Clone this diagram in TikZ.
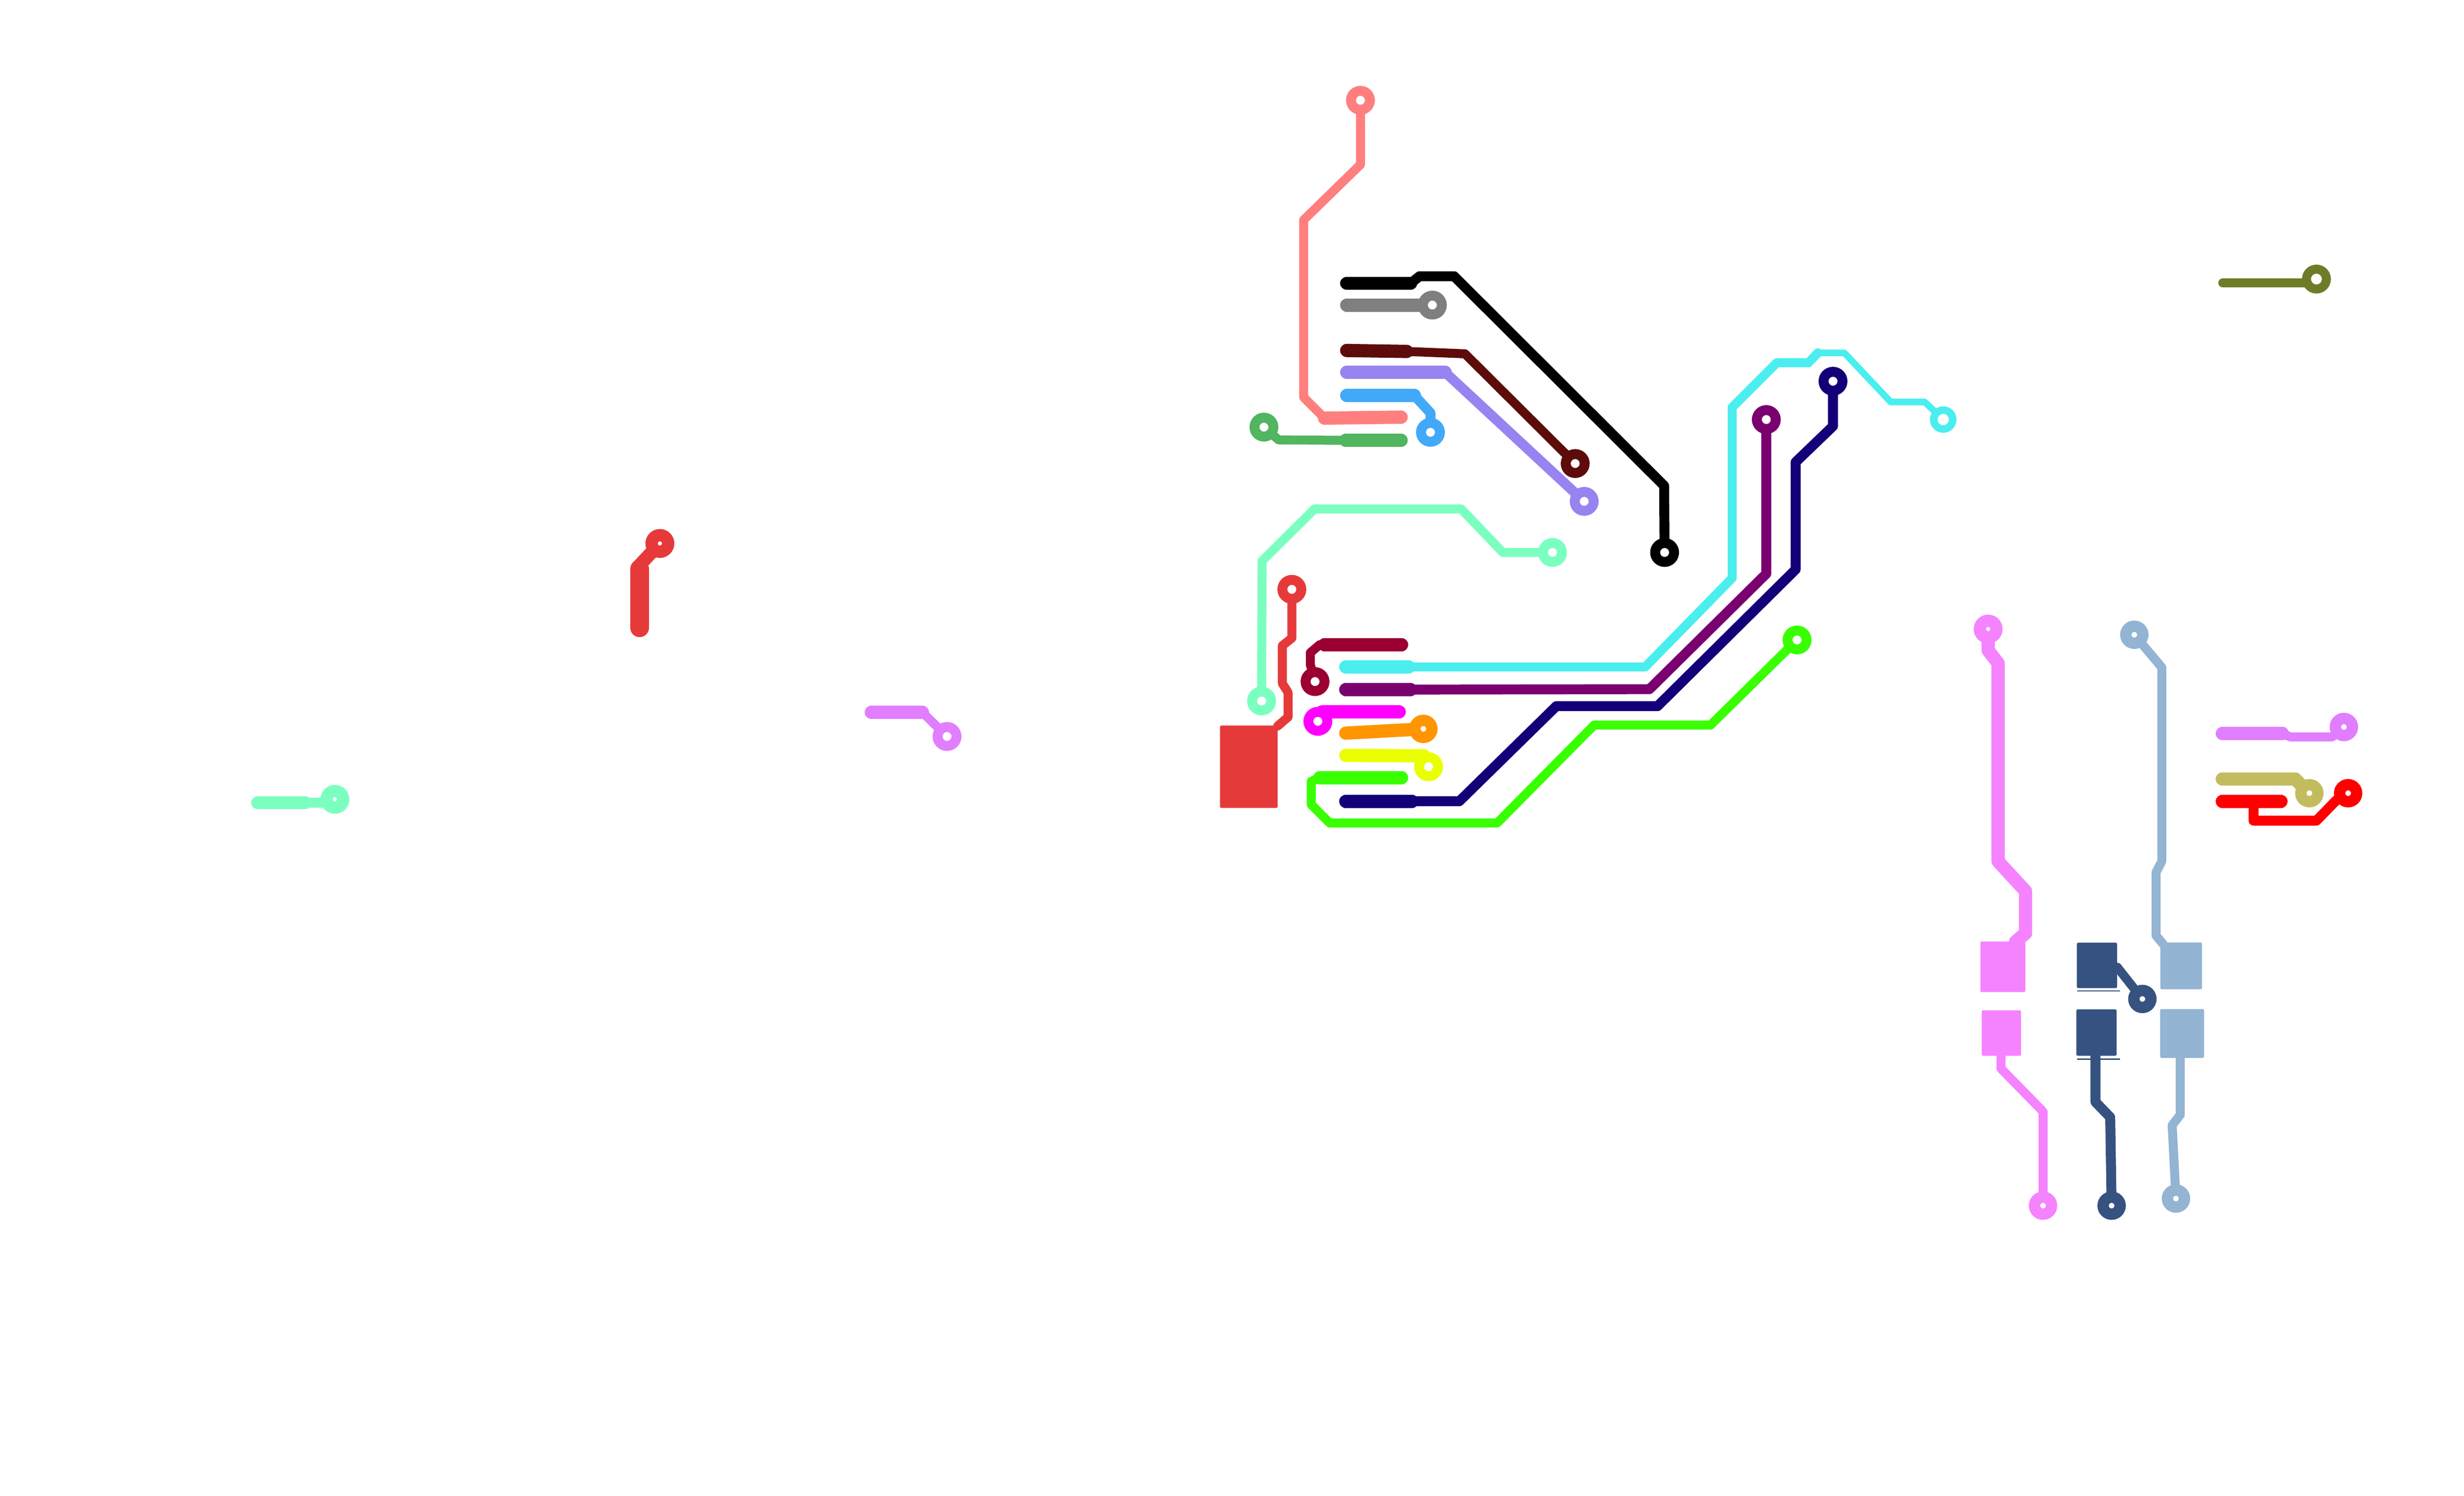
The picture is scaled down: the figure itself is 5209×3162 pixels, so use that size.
\documentclass[tikz,border=0pt]{standalone}
\definecolor{csalmon}{HTML}{FF7F7F}
\definecolor{cblack}{HTML}{000000}
\definecolor{cgray}{HTML}{7F7F7F}
\definecolor{cmaroon}{HTML}{5E0B0B}
\definecolor{cviolet}{HTML}{9983F0}
\definecolor{csky}{HTML}{42A9F9}
\definecolor{cleaf}{HTML}{52B560}
\definecolor{cmint}{HTML}{7BFFC1}
\definecolor{cred}{HTML}{E63A3A}
\definecolor{cwine}{HTML}{9B0030}
\definecolor{ccyan}{HTML}{4BEEEE}
\definecolor{cplum}{HTML}{7A0070}
\definecolor{cnavy}{HTML}{130078}
\definecolor{clime}{HTML}{39FF00}
\definecolor{cmag}{HTML}{FF00FF}
\definecolor{corange}{HTML}{FF9500}
\definecolor{cyell}{HTML}{EAFF00}
\definecolor{cpink}{HTML}{F583FF}
\definecolor{corchid}{HTML}{E17DFF}
\definecolor{csteel}{HTML}{93B4D3}
\definecolor{cslate}{HTML}{365280}
\definecolor{ckhaki}{HTML}{C3BC5E}
\definecolor{cpure}{HTML}{FF0000}
\definecolor{colive}{HTML}{6F7B26}
\pgfdeclarelayer{padlayer}
\pgfsetlayers{main,padlayer}
\tikzset{
  x=0.01cm,y=-0.01cm,
  pad/.style={circle,draw=#1,fill=white,line width=0.21cm,minimum size=0.4cm,inner sep=0pt,outer sep=0pt},
  tight/.style={line width=0.24cm,minimum size=0.36cm},
  closed/.style={line width=0.26cm,minimum size=0.35cm},
  thin trace/.style={draw=#1,line width=0.19cm,line join=round,line cap=round},
  mid trace/.style={draw=#1,line width=0.21cm,line join=round,line cap=round},
  fine trace/.style={draw=#1,line width=0.14cm,line join=round,line cap=round},
  fat trace/.style={draw=#1,line width=0.28cm,line join=round,line cap=round},
  wide trace/.style={draw=#1,line width=0.4cm,line join=round,line cap=round},
  sliver/.style={draw=#1,line width=0.03cm},
  block/.style={fill=#1,draw=none,rounded corners=0.03cm,inner sep=0pt}
}
\begin{document}
\begin{tikzpicture}
\useasboundingbox (0,0) rectangle (5209,3162);
\begin{pgfonlayer}{padlayer}
\node[pad=csalmon] (psalmon) at (2876,212) {};
\node[pad=cblack] (pblack) at (3519,1168) {};
\node[pad=cgray] (pgray) at (3028,645) {};
\node[pad=cmaroon] (pmaroon) at (3330,980) {};
\node[pad=cviolet] (pviolet) at (3349,1060) {};
\node[pad=csky] (psky) at (3024,914) {};
\node[pad=cleaf] (pleaf) at (2672,903) {};
\node[pad=cmint] (pmint) at (3282,1168) {};
\node[pad=cmint] (pminttwo) at (2667,1482) {};
\node[pad=cred] (pred) at (2731,1246) {};
\node[pad=cwine] (pwine) at (2780,1441) {};
\node[pad=ccyan,line width=0.16cm] (pcyan) at (4108,887) {};
\node[pad=cplum] (pplum) at (3734,887) {};
\node[pad=cnavy] (pnavy) at (3875,806) {};
\node[pad=clime] (plime) at (3799,1353) {};
\node[pad=cmag] (pmag) at (2786,1525) {};
\node[pad=corange,tight] (porange) at (3009,1541) {};
\node[pad=cyell] (pyell) at (3020,1621) {};
\node[pad=cpink,closed] (ppink) at (4203,1330) {};
\node[pad=cpink,tight] (ppinktwo) at (4319,2549) {};
\node[pad=csteel,tight] (psteel) at (4512,1342) {};
\node[pad=csteel,tight] (psteeltwo) at (4600,2534) {};
\node[pad=cslate,tight] (pslate) at (4529,2112) {};
\node[pad=cslate,tight] (pslatetwo) at (4464,2549) {};
\node[pad=corchid,tight] (porchid) at (4955,1537) {};
\node[pad=ckhaki,tight] (pkhaki) at (4882,1677) {};
\node[pad=cpure,tight] (ppure) at (4964,1677) {};
\node[pad=colive,line width=0.19cm,minimum size=0.42cm] (polive) at (4897,590) {};
\node[pad=cred,closed] (predl) at (1395,1149) {};
\node[pad=corchid] (porchidl) at (2002,1557) {};
\node[pad=cmint,closed] (pmintl) at (708,1690) {};
\end{pgfonlayer}
% blocks
\node[block=cred,minimum width=1.22cm,minimum height=1.74cm] (bred) at (2640,1621) {};
\node[block=cpink,minimum width=0.95cm,minimum height=1.07cm] (bpinka) at (4234,2044) {};
\node[block=cpink,minimum width=0.83cm,minimum height=0.96cm] (bpinkb) at (4231,2184) {};
\node[block=cslate,minimum width=0.85cm,minimum height=0.96cm] (bslatea) at (4433,2041) {};
\node[block=cslate,minimum width=0.85cm,minimum height=0.98cm] (bslateb) at (4432,2183) {};
\node[block=csteel,minimum width=0.88cm,minimum height=0.99cm] (bsteela) at (4611,2042) {};
\node[block=csteel,minimum width=0.93cm,minimum height=1.03cm] (bsteelb) at (4613,2185) {};
\coordinate (sa) at (4391,2095); \coordinate (sb) at (4482,2095);
\coordinate (sc) at (4391,2239); \coordinate (sd) at (4482,2239);
\draw[sliver=cslate] (sa) -- (sb);
\draw[sliver=cslate] (sc) -- (sd);
% traces
\path[thin trace=csalmon] (psalmon) -- (2876,348) -- (2756,465) -- (2756,840) -- (2800,884);
\path[fat trace=csalmon] (2800,884) -- (2962,882);
\path[fat trace=cblack] (2847,599) -- (2982,599);
\path[mid trace=cblack] (2982,599) -- (3001,584) -- (3074,584) -- (3518,1027) -- (pblack);
\path[fat trace=cgray] (2847,645) -- (pgray);
\path[fat trace=cmaroon] (2847,741) -- (2974,743);
\path[thin trace=cmaroon] (2974,743) -- (3097,748) -- (pmaroon);
\path[fat trace=cviolet] (2847,787) -- (3055,787);
\path[mid trace=cviolet] (3055,787) -- (pviolet);
\path[fat trace=csky] (2847,836) -- (2990,836);
\path[mid trace=csky] (2990,836) -- (3024,873) -- (psky);
\path[fat trace=cleaf] (2845,931) -- (2962,931);
\path[thin trace=cleaf] (pleaf) -- (2703,930) -- (2845,931);
\path[thin trace=cmint] (pmint) -- (3177,1168) -- (3089,1076) -- (2779,1076) -- (2668,1186) -- (pminttwo);
\path[thin trace=cred] (pred) -- (2731,1349) -- (2711,1365) -- (2711,1445) -- (2723,1464) -- (2723,1516) -- (2701,1535);
\path[fat trace=cwine] (2800,1363) -- (2963,1363);
\path[thin trace=cwine] (pwine) -- (2770,1405) -- (2770,1380) -- (2790,1363) -- (2800,1363);
\path[fat trace=ccyan] (2845,1410) -- (2978,1410);
\path[thin trace=ccyan] (2978,1410) -- (3478,1410) -- (3662,1222) -- (3662,861) -- (3756,767) -- (3823,767) -- (3843,746);
\path[fine trace=ccyan] (3843,746) -- (3899,746) -- (3997,850) -- (4069,850) -- (pcyan);
\path[fat trace=cplum] (2845,1458) -- (2982,1458);
\path[mid trace=cplum] (2982,1458) -- (3487,1457) -- (3734,1213) -- (pplum);
\path[fat trace=cnavy] (2845,1694) -- (2985,1694);
\path[mid trace=cnavy] (2985,1694) -- (3085,1694) -- (3290,1493) -- (3504,1493) -- (3796,1204) -- (3796,977) -- (3875,901) -- (pnavy);
\path[fat trace=clime] (2790,1644) -- (2963,1644);
\path[thin trace=clime] (2790,1644) -- (2772,1652) -- (2772,1701) -- (2811,1740) -- (3165,1740) -- (3370,1533) -- (3616,1533) -- (plime);
\path[fat trace=cmag] (pmag) -- (2795,1505) -- (2958,1505);
\path[fat trace=corange] (2845,1550) -- (porange);
\path[fat trace=cyell] (2845,1597) -- (3010,1598) -- (pyell);
\path[fat trace=cpink] (ppink) -- (4203,1375) -- (4224,1402) -- (4224,1821) -- (4282,1884) -- (4282,1973) -- (4261,1991);
\path[thin trace=cpink] (bpinkb) -- (4230,2259) -- (4319,2350) -- (ppinktwo);
\path[thin trace=csteel] (psteel) -- (4570,1411) -- (4570,1821) -- (4558,1844) -- (4558,1978) -- (4573,1996);
\path[thin trace=csteel] ([xshift=-0.04cm]bsteelb.south) -- (4609,2357) -- (4592,2379) -- (psteeltwo);
\path[thin trace=cslate] (bslatea) -- (4476,2045) -- (pslate);
\path[mid trace=cslate] ([xshift=-0.02cm]bslateb.south) -- (4430,2330) -- (4461,2362) -- (pslatetwo);
\path[fat trace=corchid] (4698,1551) -- (4825,1551);
\path[thin trace=corchid] (4825,1551) -- (4842,1558) -- (4930,1558) -- (porchid);
\path[fat trace=ckhaki] (4698,1647) -- (4852,1647) -- (pkhaki);
\path[fat trace=cpure] (4698,1694) -- (4822,1694);
\path[mid trace=cpure] (4764,1700) -- (4764,1735) -- (4897,1735) -- (4939,1692) -- (ppure);
\path[thin trace=colive] (4699,598) -- (4871,598) -- (polive);
\path[fat trace=cred] (predl) -- (1352,1195);
\path[wide trace=cred] (1352,1203) -- (1352,1327);
\path[fat trace=corchid] (1842,1506) -- (1950,1506);
\path[thin trace=corchid] (1950,1506) -- (porchidl);
\path[fat trace=cmint] (545,1697) -- (645,1697);
\path[mid trace=cmint] (645,1697) -- (680,1697) -- (pmintl);
\end{tikzpicture}
\end{document}
